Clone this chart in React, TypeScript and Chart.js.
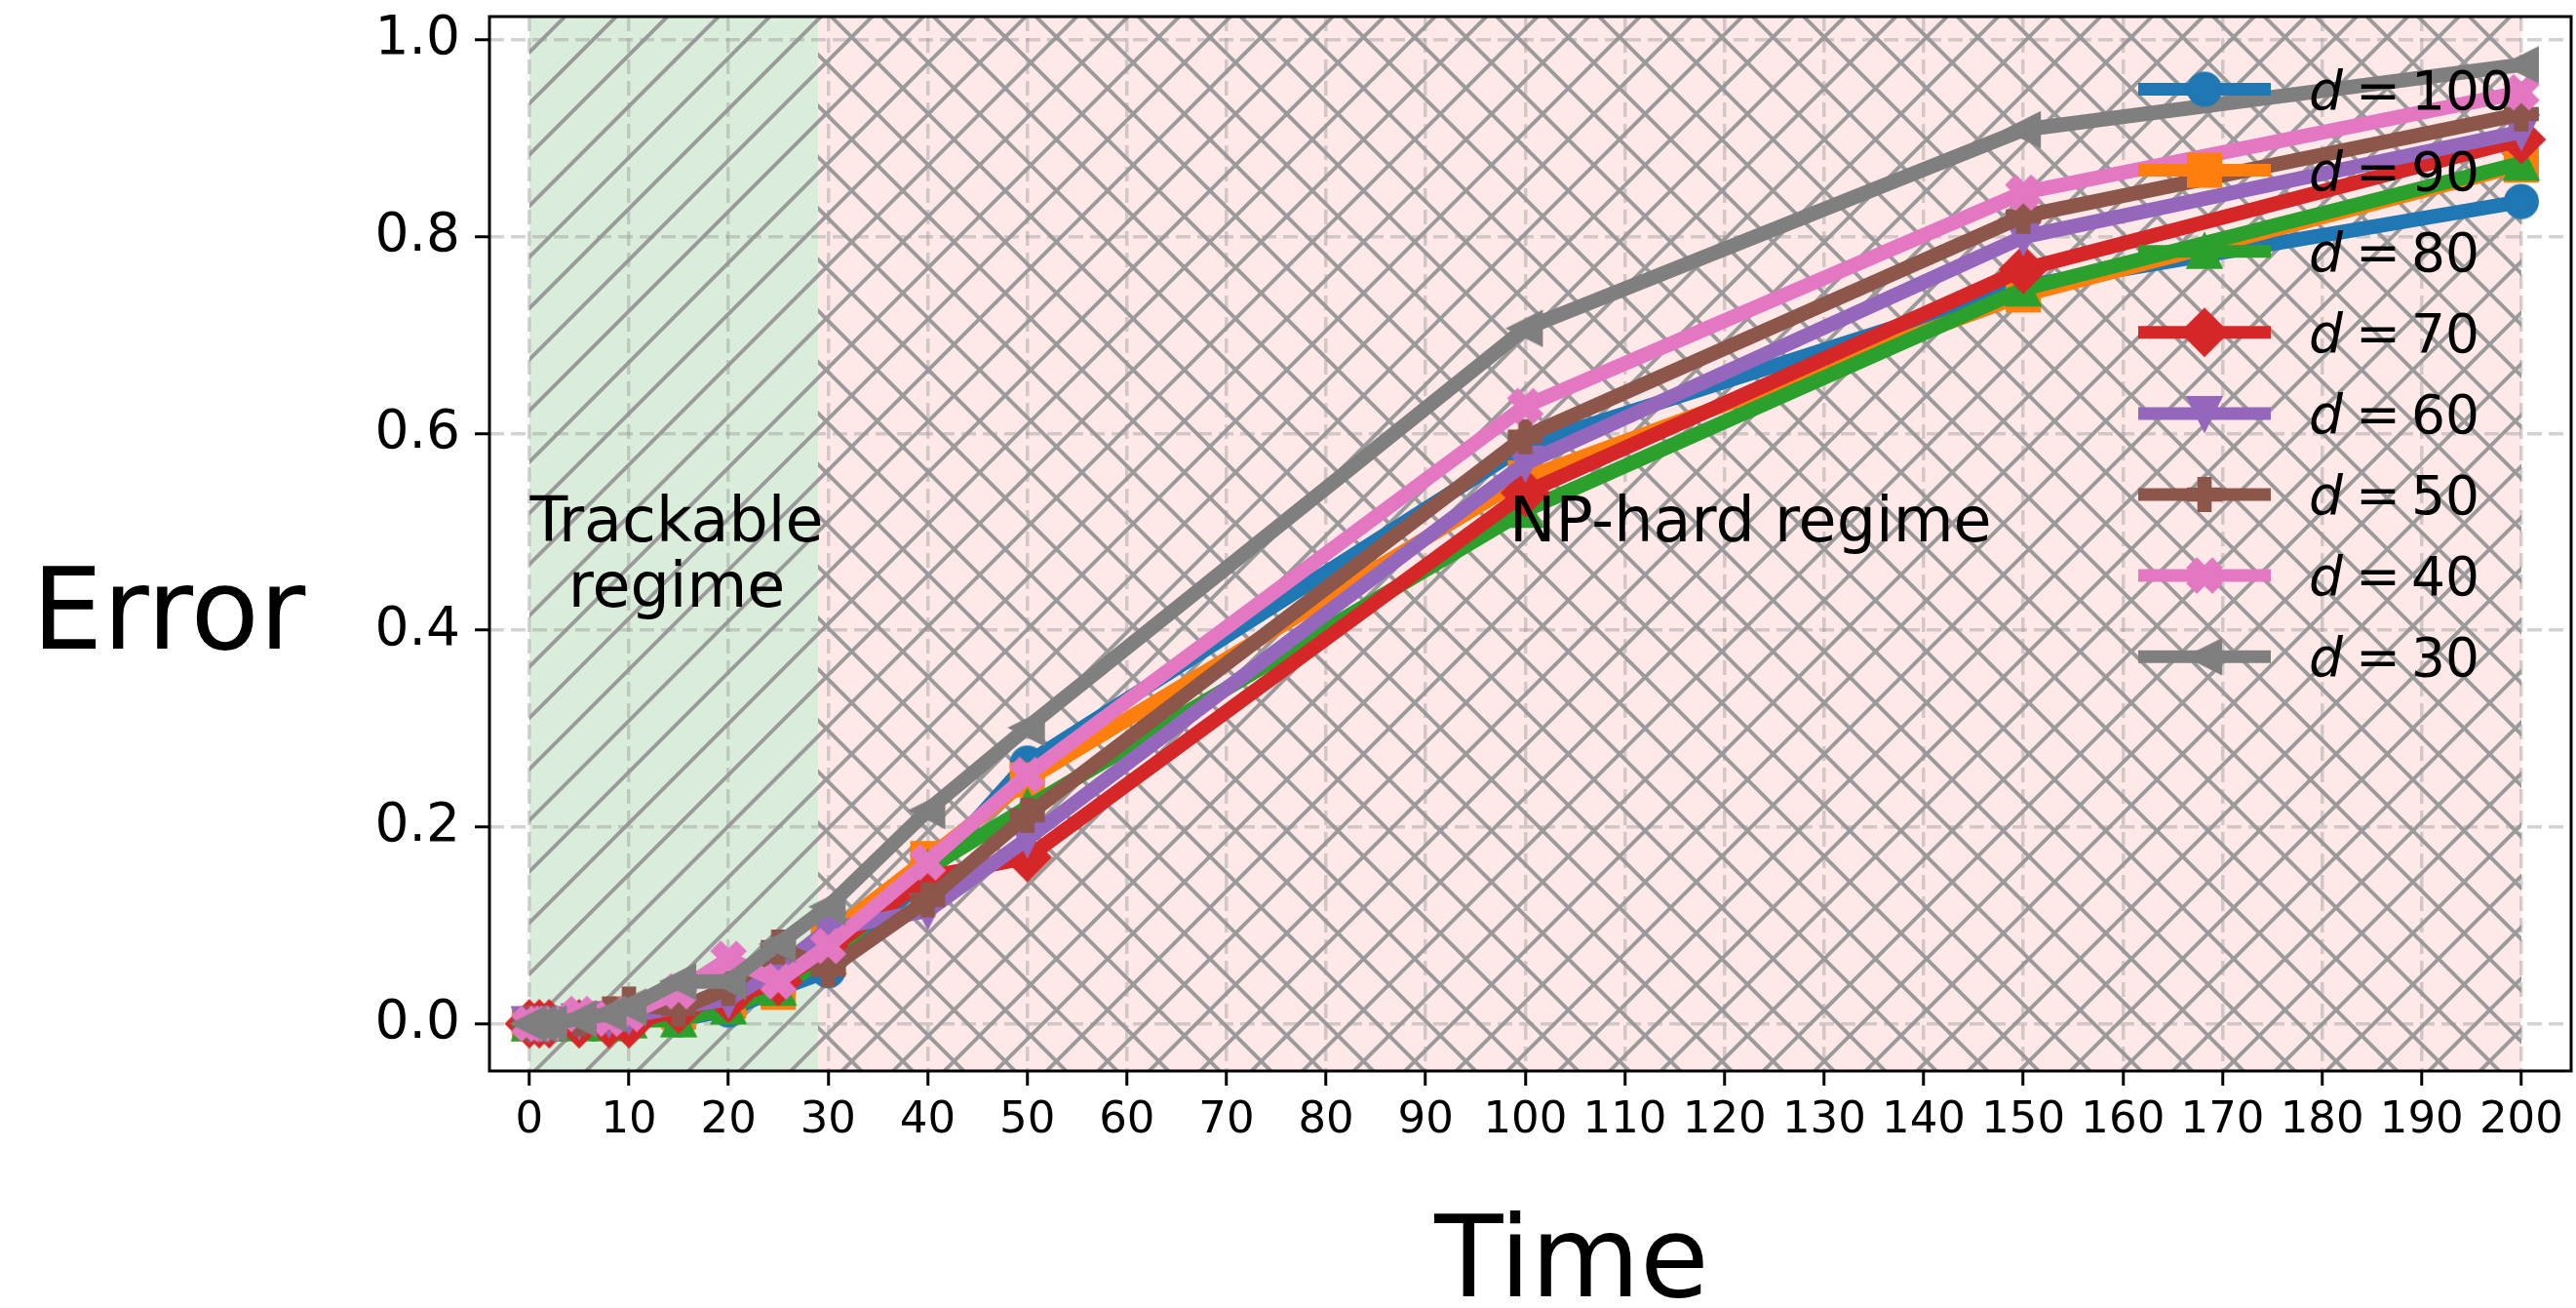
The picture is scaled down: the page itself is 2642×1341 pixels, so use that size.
import React, { useEffect, useRef } from 'react';
import { Chart, registerables } from 'chart.js';

Chart.register(...registerables);

// ---------------- data ----------------
const timeValues = [0, 1, 2, 5, 8, 10, 15, 20, 25, 30, 40, 50, 100, 150, 200];
const dLabels = ['100', '90', '80', '70', '60', '50', '40', '30'];
const errD100 = [0, 0, 0, 0.002, 0.004, 0.006, 0.004, 0.014, 0.035, 0.054, 0.152, 0.265, 0.588, 0.750, 0.836];
const errD90 = [0, 0, 0, 0.002, 0.005, 0.010, 0.012, 0.023, 0.032, 0.090, 0.168, 0.248, 0.555, 0.741, 0.873];
const errD80 = [0, 0, 0, 0.000, 0.000, 0.003, 0.004, 0.017, 0.036, 0.068, 0.158, 0.220, 0.522, 0.747, 0.875];
const errD70 = [0, 0, 0, 0.000, 0.000, 0.000, 0.015, 0.026, 0.043, 0.075, 0.149, 0.169, 0.540, 0.767, 0.899];
const errD60 = [0, 0, 0, 0.003, 0.005, 0.008, 0.017, 0.025, 0.056, 0.096, 0.115, 0.188, 0.570, 0.800, 0.907];
const errD50 = [0, 0, 0, 0.005, 0.010, 0.020, 0.015, 0.036, 0.078, 0.055, 0.126, 0.212, 0.597, 0.821, 0.925];
const errD40 = [0, 0, 0, 0.010, 0.005, 0.010, 0.033, 0.066, 0.043, 0.079, 0.164, 0.253, 0.628, 0.845, 0.947];
const errD30 = [0, 0, 0, 0.005, 0.010, 0.017, 0.043, 0.043, 0.081, 0.119, 0.217, 0.301, 0.707, 0.909, 0.975];
const xTickValues = [0, 10, 20, 30, 40, 50, 60, 70, 80, 90, 100, 110, 120, 130, 140, 150, 160, 170, 180, 190, 200];
const yTickValues = [0, 0.2, 0.4, 0.6, 0.8, 1.0];
const trackableRange = [0, 29];
const npHardRange = [29, 200];
const xTitle = 'Time';
const yTitle = 'Error';
const trackableText = ['Trackable', 'regime'];
const npHardText = 'NP-hard regime';

// ---------------- styles ----------------
const COLORS = ['#1f77b4', '#ff7f0e', '#2ca02c', '#d62728', '#9467bd', '#8c564b', '#e377c2', '#7f7f7f'];
const SHAPES = ['circle', 'square', 'triUp', 'diamond', 'triDown', 'plus', 'xfill', 'triLeft'];
const FONT = '"DejaVu Sans", "Noto Sans", sans-serif';
const HATCH_COLOR = '#9a9a9a';
const HATCH_STEP = 52.5;
const HATCH_C1 = 19; // x + y phase
const HATCH_C2 = 48; // x - y phase
const LINE_W = 15;

function makeMarker(shape: string, color: string): HTMLCanvasElement {
  const S = 70;
  const c = document.createElement('canvas');
  c.width = S;
  c.height = S;
  const ctx = c.getContext('2d')!;
  ctx.translate(S / 2, S / 2);
  const m = 32;
  const h = m / 2;
  ctx.fillStyle = color;
  ctx.strokeStyle = color;
  ctx.lineWidth = 4;
  ctx.lineJoin = 'miter';
  ctx.miterLimit = 4;
  ctx.beginPath();
  const poly = (pts: number[][]) => {
    ctx.moveTo(pts[0][0], pts[0][1]);
    for (let i = 1; i < pts.length; i++) ctx.lineTo(pts[i][0], pts[i][1]);
    ctx.closePath();
  };
  if (shape === 'circle') {
    ctx.arc(0, 0, h, 0, Math.PI * 2);
  } else if (shape === 'square') {
    ctx.rect(-h, -h, m, m);
  } else if (shape === 'triUp') {
    poly([[0, -h], [h, h], [-h, h]]);
  } else if (shape === 'triDown') {
    poly([[0, h], [h, -h], [-h, -h]]);
  } else if (shape === 'triLeft') {
    poly([[-h, 0], [h, -h], [h, h]]);
  } else if (shape === 'diamond') {
    const d = m / Math.SQRT2;
    poly([[0, -d], [d, 0], [0, d], [-d, 0]]);
  } else if (shape === 'plus') {
    const a = h, b = h / 3;
    poly([[-b, -a], [b, -a], [b, -b], [a, -b], [a, b], [b, b], [b, a], [-b, a], [-b, b], [-a, b], [-a, -b], [-b, -b]]);
  } else if (shape === 'xfill') {
    const v = [[0.25, 0], [0.5, 0.25], [0.75, 0], [1, 0.25], [0.75, 0.5], [1, 0.75], [0.75, 1], [0.5, 0.75], [0.25, 1], [0, 0.75], [0.25, 0.5], [0, 0.25]];
    poly(v.map(([x, y]) => [(x - 0.5) * m, (y - 0.5) * m]));
  }
  ctx.fill();
  ctx.stroke();
  return c;
}

export default function App() {
  const ref = useRef<HTMLCanvasElement>(null);

  useEffect(() => {
    document.body.style.margin = '0';
    document.body.style.overflow = 'hidden';
    const canvas = ref.current;
    if (!canvas) return;
    const markers = SHAPES.map((s, i) => makeMarker(s, COLORS[i]));
    const seriesValues = [errD100, errD90, errD80, errD70, errD60, errD50, errD40, errD30];

    const datasets = seriesValues.map((vals, i) => ({
      label: 'd = ' + dLabels[i],
      data: timeValues.map((t, j) => ({ x: t, y: vals[j] })),
      borderColor: COLORS[i],
      backgroundColor: COLORS[i],
      borderWidth: LINE_W,
      pointBorderWidth: 0,
      pointStyle: markers[i],
      pointRadius: 18,
      pointHoverRadius: 18,
      borderJoinStyle: 'round',
      borderCapStyle: 'butt',
      tension: 0,
      fill: false,
      clip: 40,
      order: seriesValues.length - 1 - i,
    }));

    const regionPlugin = {
      id: 'regions',
      beforeDraw(chart: any) {
        const { ctx, chartArea } = chart;
        const xs = chart.scales.x;
        const top = chartArea.top;
        const bottom = chartArea.bottom;
        const drawRegion = (range: number[], fill: string, cross: boolean) => {
          const x0 = xs.getPixelForValue(range[0]);
          const x1 = xs.getPixelForValue(range[1]);
          ctx.save();
          ctx.beginPath();
          ctx.rect(x0, top, x1 - x0, bottom - top);
          ctx.clip();
          ctx.fillStyle = fill;
          ctx.fillRect(x0, top, x1 - x0, bottom - top);
          ctx.strokeStyle = HATCH_COLOR;
          ctx.lineWidth = 3.9;
          ctx.beginPath();
          const S = HATCH_STEP;
          const kMin1 = Math.floor((x0 + top - HATCH_C1) / S) - 1;
          const kMax1 = Math.ceil((x1 + bottom - HATCH_C1) / S) + 1;
          for (let k = kMin1; k <= kMax1; k++) {
            const c = HATCH_C1 + k * S;
            ctx.moveTo(x0 - 10, c - (x0 - 10));
            ctx.lineTo(x1 + 10, c - (x1 + 10));
          }
          if (cross) {
            const kMin2 = Math.floor((x0 - bottom - HATCH_C2) / S) - 1;
            const kMax2 = Math.ceil((x1 - top - HATCH_C2) / S) + 1;
            for (let k = kMin2; k <= kMax2; k++) {
              const c = HATCH_C2 + k * S;
              ctx.moveTo(x0 - 10, x0 - 10 - c);
              ctx.lineTo(x1 + 10, x1 + 10 - c);
            }
          }
          ctx.stroke();
          ctx.restore();
        };
        drawRegion(trackableRange, 'rgba(0,128,0,0.145)', false);
        drawRegion(npHardRange, 'rgba(255,0,0,0.09)', true);
      },
    };

    const overlayPlugin = {
      id: 'overlay',
      afterDatasetsDraw(chart: any) {
        const { ctx, chartArea } = chart;
        const xs = chart.scales.x;
        const ys = chart.scales.y;
        ctx.save();
        ctx.strokeStyle = '#000';
        ctx.lineWidth = 3;
        ctx.strokeRect(chartArea.left, chartArea.top, chartArea.right - chartArea.left, chartArea.bottom - chartArea.top);

        ctx.fillStyle = '#000';
        ctx.textAlign = 'center';
        ctx.textBaseline = 'alphabetic';
        ctx.font = '63.5px ' + FONT;
        const tx = xs.getPixelForValue(14.8);
        const ty = ys.getPixelForValue(0.49);
        ctx.fillText(trackableText[0], tx, ty);
        ctx.fillText(trackableText[1], tx, ty + 67);
        ctx.fillText(npHardText, xs.getPixelForValue(122.6), ys.getPixelForValue(0.49));

        const rowY0 = 91.5;
        const rowStep = 83.1;
        for (let i = 0; i < dLabels.length; i++) {
          const y = rowY0 + i * rowStep;
          ctx.strokeStyle = COLORS[i];
          ctx.lineWidth = 13;
          ctx.lineCap = 'butt';
          ctx.beginPath();
          ctx.moveTo(2193, y);
          ctx.lineTo(2329, y);
          ctx.stroke();
          const mk = markers[i];
          ctx.drawImage(mk, 2261 - mk.width / 2, y - mk.height / 2);
          ctx.fillStyle = '#000';
          ctx.textAlign = 'left';
          const base = y + 20;
          ctx.font = 'italic 55px ' + FONT;
          ctx.fillText('d', 2368, base);
          ctx.font = '55px ' + FONT;
          ctx.fillText('=', 2416, base);
          ctx.fillText(dLabels[i], 2473, base);
        }
        ctx.restore();
      },
      afterDraw(chart: any) {
        const { ctx } = chart;
        ctx.save();
        ctx.fillStyle = '#000';
        ctx.textAlign = 'center';
        ctx.textBaseline = 'alphabetic';
        ctx.font = '115px ' + FONT;
        ctx.fillText(yTitle, 173, 665);
        ctx.fillText(xTitle, 1612, 1329);
        ctx.restore();
      },
    };

    const chart = new Chart(canvas, {
      type: 'line',
      data: { datasets: datasets as any },
      options: {
        animation: false,
        responsive: false,
        devicePixelRatio: 1,
        events: [],
        elements: {
          line: { borderWidth: LINE_W },
          point: { borderWidth: 0 },
        },
        layout: { autoPadding: false, padding: { left: 0, right: 5, top: 17, bottom: 0 } },
        plugins: {
          legend: { display: false },
          tooltip: { enabled: false },
          title: { display: false },
        },
        scales: {
          x: {
            type: 'linear',
            min: -4,
            max: 205,
            afterBuildTicks: (scale: any) => {
              scale.ticks = xTickValues.map((v) => ({ value: v }));
            },
            afterFit: (scale: any) => {
              scale.height = 243;
              scale.paddingLeft = 0;
              scale.paddingRight = 0;
            },
            ticks: {
              autoSkip: false,
              maxRotation: 0,
              minRotation: 0,
              color: '#000',
              padding: 9,
              font: { family: FONT, size: 45 },
              callback: (v: any) => String(v),
            },
            grid: {
              color: 'rgba(150,150,150,0.42)',
              lineWidth: 3.5,
              drawTicks: true,
              tickLength: 15,
              tickColor: '#000',
              tickWidth: 3,
            },
            border: { display: false, dash: [15, 7] },
          },
          y: {
            type: 'linear',
            min: -0.048,
            max: 1.024,
            afterBuildTicks: (scale: any) => {
              scale.ticks = yTickValues.map((v) => ({ value: v }));
            },
            afterFit: (scale: any) => {
              scale.width = 502;
              scale.paddingTop = 0;
              scale.paddingBottom = 0;
            },
            ticks: {
              color: '#000',
              padding: 15,
              font: { family: FONT, size: 55 },
              callback: (v: any) => Number(v).toFixed(1),
            },
            grid: {
              color: 'rgba(150,150,150,0.42)',
              lineWidth: 3.5,
              drawTicks: true,
              tickLength: 15,
              tickColor: '#000',
              tickWidth: 3,
            },
            border: { display: false, dash: [15, 7] },
          },
        },
      } as any,
      plugins: [regionPlugin, overlayPlugin],
    });

    return () => {
      chart.destroy();
    };
  }, []);

  return (
    <div style={{ position: 'fixed', left: 0, top: 0, width: 2642, height: 1341, background: '#fff' }}>
      <canvas ref={ref} width={2642} height={1341} style={{ display: 'block', width: 2642, height: 1341 }} />
    </div>
  );
}
